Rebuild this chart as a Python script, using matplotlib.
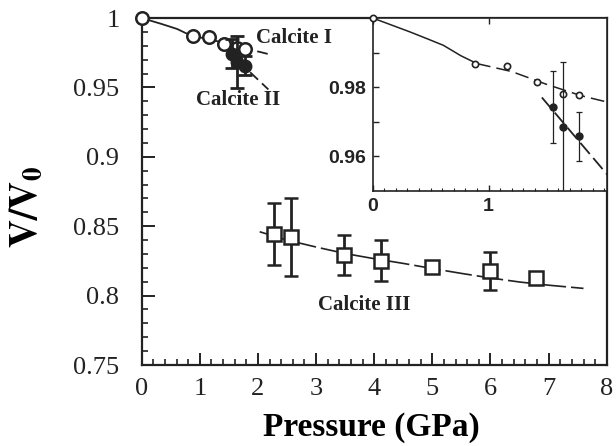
import numpy as np
import matplotlib
matplotlib.use("Agg")
import matplotlib.pyplot as plt
from matplotlib.ticker import MultipleLocator, FixedLocator, FixedFormatter

# ---- data ----
# Calcite I (open circles)
p_c1 = [0.0, 0.88, 1.16, 1.42, 1.64, 1.78]
v_c1 = [1.0, 0.9868, 0.9861, 0.9816, 0.9781, 0.9777]

# Calcite II (filled circles, with error bars)
p_c2 = [1.56, 1.64, 1.78]
v_c2 = [0.9743, 0.9685, 0.9657]
e_c2 = [0.0104, 0.0188, 0.0070]

# Calcite III (open squares)
p_c3 = [2.28, 2.57, 3.48, 4.11, 4.99, 6.00, 6.79]
v_c3 = [0.8444, 0.8424, 0.8293, 0.8252, 0.8208, 0.8177, 0.8125]
e_c3 = [0.0225, 0.0280, 0.0142, 0.0150, 0.0, 0.0137, 0.0]

# fitted curves
fit1_solid_p = [0.0, 0.12, 0.32, 0.47, 0.61, 0.76, 0.90]
fit1_solid_v = [1.0, 0.9985, 0.9960, 0.9940, 0.9921, 0.9891, 0.9868]
fit1_dash_p = [0.90, 1.20, 1.50, 1.80, 2.02, 2.20]
fit1_dash_v = [0.9868, 0.9845, 0.9808, 0.9775, 0.9757, 0.9738]

fit2_p = [1.46, 2.18]
fit2_v = [0.9770, 0.9485]

fit3_p = [2.03, 2.5, 3.0, 3.5, 4.0, 4.5, 5.0, 5.5, 6.0, 6.5, 7.0, 7.6]
fit3_v = [0.8460, 0.8400, 0.8350, 0.8303, 0.8266, 0.8232, 0.8195, 0.8160,
          0.8127, 0.8098, 0.8075, 0.8052]

INK = "#222222"
SERIF = ["Liberation Serif", "DejaVu Serif"]
SANS = ["Liberation Sans", "DejaVu Sans"]

plt.rcParams.update({
    "font.family": SERIF,
    "mathtext.fontset": "stix",
    "axes.edgecolor": INK,
    "xtick.color": INK,
    "ytick.color": INK,
    "text.color": INK,
})

fig = plt.figure(figsize=(6.16, 4.46), dpi=100)

# ---- main axes ----
ax = fig.add_axes([0.230, 0.1816, 0.755, 0.778])

ax.plot(fit1_solid_p, fit1_solid_v, color=INK, lw=1.3, zorder=2)
ax.plot(fit1_dash_p, fit1_dash_v, color=INK, lw=1.3, dashes=(6, 3), zorder=2)
ax.plot(fit2_p, fit2_v, color=INK, lw=1.3, dashes=(6, 3), zorder=2)
ax.plot(fit3_p, fit3_v, color=INK, lw=1.2, dashes=(16, 3), zorder=2)

ax.plot(p_c1, v_c1, "o", ms=9, mfc="white", mec=INK, mew=1.8,
        zorder=4, clip_on=False)
ax.errorbar(p_c2, v_c2, yerr=e_c2, fmt="o", ms=9, mfc=INK, mec=INK,
            ecolor=INK, elinewidth=2, capsize=5, capthick=2, zorder=5)
ax.errorbar(p_c3, v_c3, yerr=e_c3, fmt="s", ms=10, mfc="white", mec=INK,
            mew=1.8, ecolor=INK, elinewidth=2, capsize=5, capthick=2, zorder=4)

ax.text(1.96, 0.9856, "Calcite I", fontsize=15, fontweight="bold",
        va="center", ha="left")
ax.text(0.93, 0.941, "Calcite II", fontsize=15, fontweight="bold",
        va="center", ha="left")
ax.text(3.03, 0.7932, "Calcite III", fontsize=15, fontweight="bold",
        va="center", ha="left")

ax.set_xlim(0, 8)
ax.set_ylim(0.75, 1.0)
ax.xaxis.set_minor_locator(MultipleLocator(0.2))
ax.yaxis.set_minor_locator(MultipleLocator(0.01))
ax.set_xticks(range(9))
ax.set_xticklabels([str(i) for i in range(9)])
ax.set_yticks([0.75, 0.8, 0.85, 0.9, 0.95, 1.0])
ax.set_yticklabels(["0.75", "0.8", "0.85", "0.9", "0.95", "1"])
ax.tick_params(which="major", direction="in", length=9, width=1.4,
               labelsize=19)
ax.tick_params(which="minor", direction="in", length=4, width=1.2)
ax.tick_params(axis="x", which="major", pad=9)
ax.tick_params(axis="y", which="major", pad=16)
for s in ax.spines.values():
    s.set_linewidth(1.6)

ax.set_xlabel("Pressure (GPa)", fontsize=24, fontweight="bold")
ax.xaxis.set_label_coords(0.494, -0.135)
ax.set_ylabel(r"$\mathbf{V/V_0}$", fontsize=28)
ax.yaxis.set_label_coords(-0.205, 0.455)

# ---- inset ----
axi = fig.add_axes([0.605, 0.5724, 0.380, 0.3872])
axi.set_facecolor("white")
axi.set_zorder(10)

axi.plot(fit1_solid_p, fit1_solid_v, color=INK, lw=1.1)
axi.plot(fit1_dash_p, fit1_dash_v, color=INK, lw=1.1, dashes=(9, 4))
axi.plot(fit2_p, fit2_v, color=INK, lw=1.3, dashes=(8, 3))
axi.plot(p_c1, v_c1, "o", ms=4.5, mfc="white", mec=INK, mew=1.2,
         zorder=4, clip_on=False)
axi.errorbar(p_c2, v_c2, yerr=e_c2, fmt="o", ms=5, mfc=INK, mec=INK,
             ecolor=INK, elinewidth=0.9, capsize=2, capthick=0.9, zorder=5)

axi.set_xlim(0, 2.02)
axi.set_ylim(0.95, 1.0)
axi.xaxis.set_major_locator(FixedLocator([0, 1]))
axi.xaxis.set_major_formatter(FixedFormatter(["0", "1"]))
axi.xaxis.set_minor_locator(MultipleLocator(0.1))
axi.yaxis.set_major_locator(FixedLocator([0.96, 0.97, 0.98, 0.99]))
axi.yaxis.set_major_formatter(FixedFormatter(["0.96", "", "0.98", ""]))
axi.tick_params(which="major", direction="in", length=4, width=1.0,
                labelsize=14, pad=5, top=True)
axi.tick_params(which="minor", direction="in", length=2.5, width=0.8)
for lab in axi.get_xticklabels() + axi.get_yticklabels():
    lab.set_family(SANS)
    lab.set_fontweight("bold")
for s in axi.spines.values():
    s.set_linewidth(1.2)

fig.savefig("out.png", dpi=100)
